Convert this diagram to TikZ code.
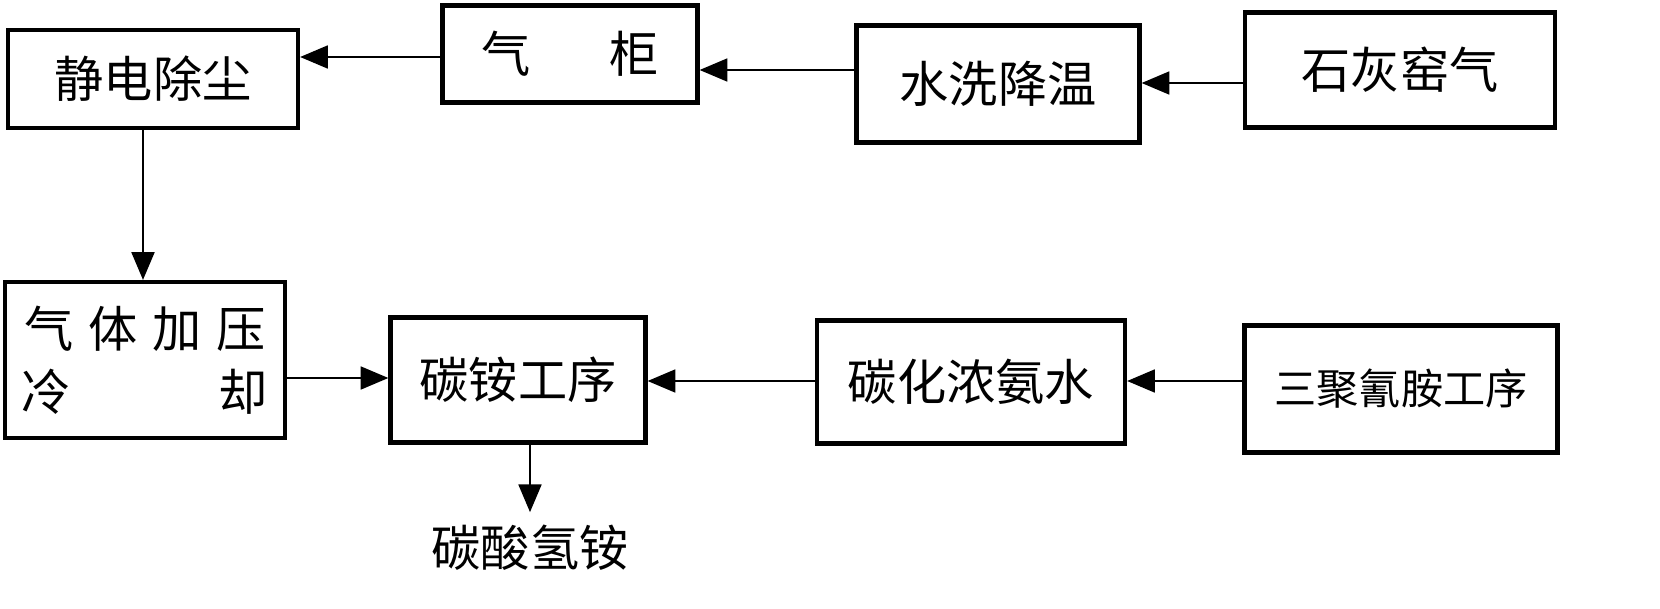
\documentclass[tikz,border=0pt]{standalone}
\usepackage{fontspec}
\newfontfamily\cjk{Noto Sans CJK SC}
\usetikzlibrary{arrows}

\begin{document}
\begin{tikzpicture}[->,>=triangle 45,thick,x=0.01cm,y=-0.01cm]
                \tikzset{box/.style={draw, line width=1.2pt, inner sep=0pt, font=\cjk\fontsize{14}{16}\selectfont}}
                \useasboundingbox (0,0) rectangle (1660,609);

                \node[box, minimum width=2.9cm, minimum height=0.98cm] (JD) at (153,79) {静电除尘};
                \node[box, minimum width=2.55cm, minimum height=0.97cm] (QG) at (570,54) {气\hspace{1.6em}柜};
                \node[box, minimum width=2.83cm, minimum height=1.17cm] (SX) at (998,84) {水洗降温};
                \node[box, minimum width=3.1cm, minimum height=1.15cm] (SH) at (1400,70) {石灰窑气};
                \node[box, minimum width=2.8cm, minimum height=1.56cm, align=center] (QT) at (145,360)
                    {气\hspace{0.3em}体\hspace{0.3em}加\hspace{0.3em}压\\[2pt]冷\hspace{3em}却};
                \node[box, minimum width=2.55cm, minimum height=1.25cm] (TA) at (518,380) {碳铵工序};
                \node[box, minimum width=3.08cm, minimum height=1.23cm] (TH) at (971,382) {碳化浓氨水};
                \node[box, minimum width=3.13cm, minimum height=1.27cm, font=\cjk\fontsize{12}{14}\selectfont] (SJ) at (1401,389) {三聚氰胺工序};
                \node[font=\cjk\fontsize{14}{16}\selectfont] (TS) at (530,548) {碳酸氢铵};

                \draw (SH.west |- 0,83) -- (SX.east |- 0,83);
                \draw (SX.west |- 0,70) -- (QG.east |- 0,70);
                \draw (QG.west |- 0,57) -- (JD.east |- 0,57);
                \draw (JD.south -| 143,0) -- (QT.north -| 143,0);
                \draw (QT.east |- 0,378) -- (TA.west |- 0,378);
                \draw (TH.west |- 0,381) -- (TA.east |- 0,381);
                \draw (SJ.west |- 0,381) -- (TH.east |- 0,381);
                \draw (TA.south -| 530,0) -- (TS.north);
\end{tikzpicture}
\end{document}
